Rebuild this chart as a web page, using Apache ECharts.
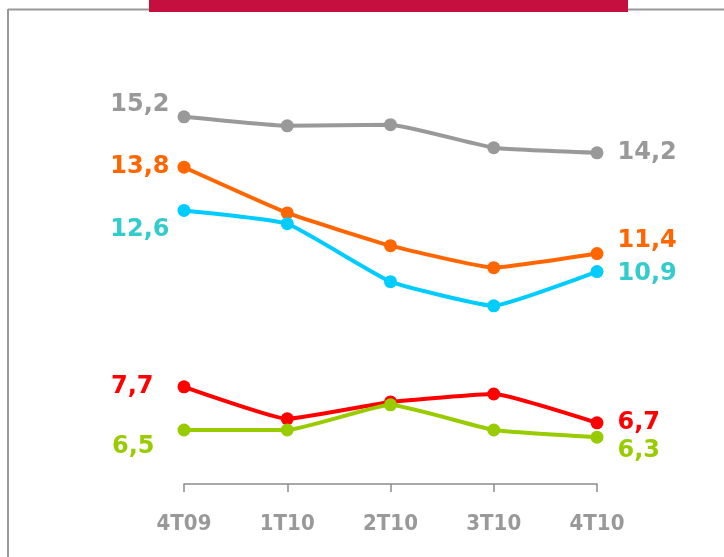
<!DOCTYPE html>
<html><head><meta charset="utf-8">
<script src="https://cdn.jsdelivr.net/npm/echarts@6/dist/echarts.min.js"></script>
<style>html,body{margin:0;padding:0;background:#fff}#c{width:724px;height:557px}</style>
</head><body><div id="c"></div>
<script>
var categories = ['4T09','1T10','2T10','3T10','4T10'];
var grayVals   = [15.2, 14.95, 14.98, 14.34, 14.2];
var orangeVals = [13.8, 12.53, 11.62, 11.01, 11.4];
var cyanVals   = [12.6, 12.23, 10.62, 9.95, 10.9];
var redVals    = [7.7, 6.81, 7.28, 7.5, 6.7];
var greenVals  = [6.5, 6.5, 7.2, 6.5, 6.3];

function fmt(v){ return String(v).replace('.', ','); }

var chart = echarts.init(document.getElementById('c'), null, {renderer:'canvas'});
var labelFont = {fontFamily:'DejaVu Sans', fontWeight:'bold', fontSize:24};

function mk(vals, lineColor, labelColor, first, last){
  var data = vals.map(function(v,i){
    var d = {value:v};
    var cfg = i===0 ? first : (i===vals.length-1 ? last : null);
    if(cfg){
      d.label = Object.assign({show:true, color:labelColor, formatter:fmt(v)}, labelFont, cfg);
    }
    return d;
  });
  return {
    type:'line', data:data, smooth:0.12,
    symbol:'circle', symbolSize:13,
    lineStyle:{color:lineColor, width:4},
    itemStyle:{color:lineColor},
    label:{show:false},
    emphasis:{disabled:true}
  };
}

chart.setOption({
  animation:false,
  grid:{left:184, right:127, top:88, bottom:73, containLabel:false},
  xAxis:{
    type:'category', data:categories, boundaryGap:false,
    axisLine:{lineStyle:{color:'#8c8c8c', width:1.5}},
    axisTick:{show:true, length:8, lineStyle:{color:'#8c8c8c', width:1.5}},
    axisLabel:{color:'#999999', fontFamily:'DejaVu Sans Condensed', fontWeight:'bold', fontSize:22, margin:29}
  },
  yAxis:{type:'value', min:5, max:16, show:false, splitLine:{show:false}},
  graphic:[
    {type:'line', shape:{x1:8, y1:9.5, x2:724, y2:9.5}, style:{stroke:'#999999', lineWidth:2}},
    {type:'line', shape:{x1:8, y1:9, x2:8, y2:557}, style:{stroke:'#999999', lineWidth:2}},
    {type:'rect', shape:{x:149, y:0, width:479, height:12}, style:{fill:'#C40F3F'}}
  ],
  series:[
    mk(grayVals, '#999999', '#999999', {position:'left', distance:8, offset:[0,-12]}, {position:'right', distance:14}),
    mk(orangeVals, '#FF6600', '#FF6600', {position:'left', distance:8}, {position:'right', distance:14, offset:[0,-13]}),
    mk(cyanVals, '#00CCFF', '#33CCCC', {position:'left', distance:8, offset:[0,19]}, {position:'right', distance:14, offset:[0,2]}),
    mk(redVals, '#FF0000', '#FF0000', {position:'left', distance:24}, {position:'right', distance:14}),
    mk(greenVals, '#99CC00', '#99CC00', {position:'left', distance:23, offset:[0,17]}, {position:'right', distance:14, offset:[0,14]})
  ]
});
</script></body></html>
